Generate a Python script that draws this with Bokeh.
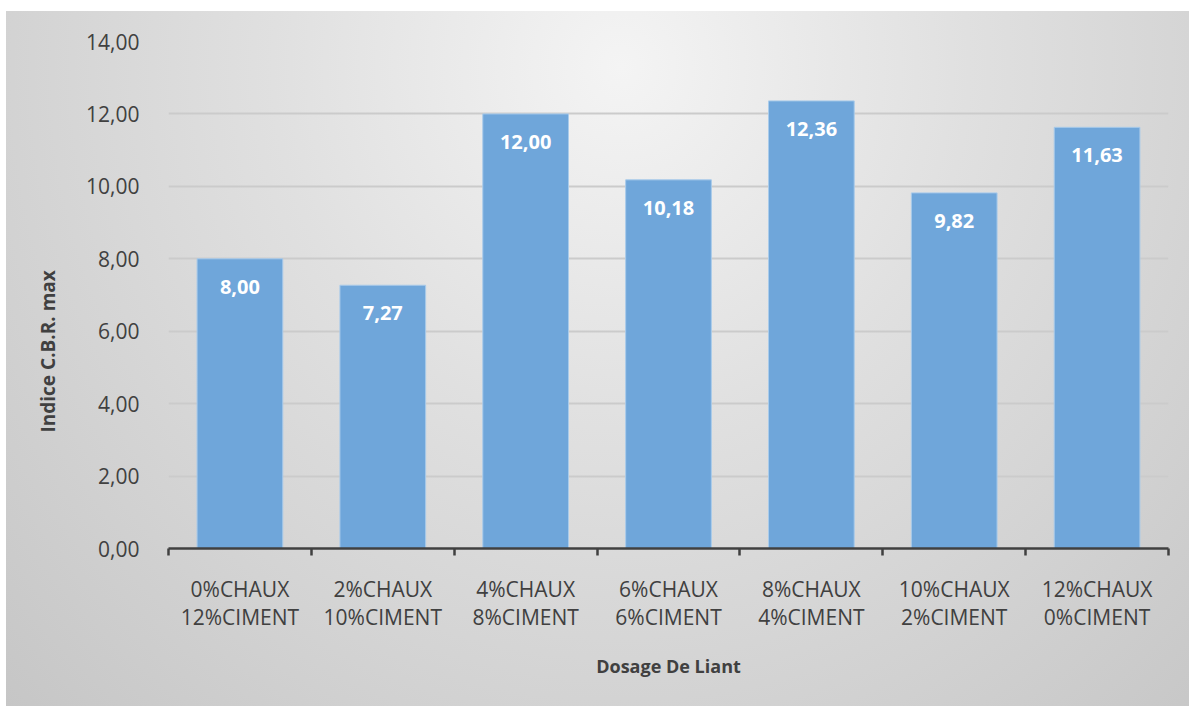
from bokeh.plotting import figure
from bokeh.models import FixedTicker, Title, ColumnDataSource, LabelSet
from bokeh.core.properties import value
from bokeh.embed import file_html
from bokeh.resources import INLINE

categories = ["0%CHAUX\n12%CIMENT", "2%CHAUX\n10%CIMENT", "4%CHAUX\n8%CIMENT",
              "6%CHAUX\n6%CIMENT", "8%CHAUX\n4%CIMENT", "10%CHAUX\n2%CIMENT",
              "12%CHAUX\n0%CIMENT"]
values = [8.00, 7.27, 12.00, 10.18, 12.36, 9.82, 11.63]
value_labels = ["8,00", "7,27", "12,00", "10,18", "12,36", "9,82", "11,63"]
y_ticks = [0, 2, 4, 6, 8, 10, 12, 14]
y_tick_labels = ["0,00", "2,00", "4,00", "6,00", "8,00", "10,00", "12,00", "14,00"]

FONT = "Open Sans"
TXT = "#404040"

xs = [i + 0.5 for i in range(len(categories))]
bounds = [float(i) for i in range(len(categories) + 1)]

src = ColumnDataSource(dict(x=xs, top=values, lab=value_labels))

p = figure(width=1189, height=706, x_range=(0, len(categories)), y_range=(0, 14),
           output_backend="svg", toolbar_location=None,
           min_border_left=168, min_border_right=21, min_border_top=41, min_border_bottom=158)

p.styles = {
    "background-color": "white",
    "background-image": "radial-gradient(ellipse farthest-corner at 52% 8%, #f4f4f4 0%, #e0e0e0 40%, #c6c6c6 100%)",
    "background-repeat": "no-repeat",
    "background-position": "6px 11px",
    "background-size": "1183px 695px",
}
p.background_fill_color = None
p.border_fill_color = None
p.outline_line_color = None

p.vbar(x="x", top="top", width=0.6, source=src, fill_color="#6fa6da",
       line_color="#a9cbea", line_width=1)

labels = LabelSet(x="x", y="top", text="lab", source=src, y_offset=-28,
                  text_align="center", text_baseline="middle", text_color="white",
                  text_font=value(FONT), text_font_style="bold", text_font_size="20px")
p.add_layout(labels)

# y axis
p.yaxis.ticker = FixedTicker(ticks=y_ticks)
p.yaxis.major_label_overrides = {t: l for t, l in zip(y_ticks, y_tick_labels)}
p.yaxis.axis_line_color = None
p.yaxis.major_tick_line_color = None
p.yaxis.minor_tick_line_color = None
p.yaxis.major_label_standoff = 23
p.yaxis.major_label_text_font = FONT
p.yaxis.major_label_text_font_size = "21px"
p.yaxis.major_label_text_color = TXT

# x axis
p.xaxis.ticker = FixedTicker(ticks=xs, minor_ticks=bounds)
p.xaxis.major_label_overrides = {x: c for x, c in zip(xs, categories)}
p.xaxis.major_tick_line_color = None
p.xaxis.minor_tick_out = 7
p.xaxis.minor_tick_in = 0
p.xaxis.minor_tick_line_color = TXT
p.xaxis.minor_tick_line_width = 2.5
p.xaxis.axis_line_color = TXT
p.xaxis.axis_line_width = 2.5
p.xaxis.major_label_standoff = 19
p.xaxis.major_label_text_font = FONT
p.xaxis.major_label_text_font_size = "21px"
p.xaxis.major_label_text_color = TXT
p.xaxis.major_label_text_line_height = 1.03
p.xaxis.axis_label = "Dosage De Liant"
p.xaxis.axis_label_text_font = FONT
p.xaxis.axis_label_text_font_style = "bold"
p.xaxis.axis_label_text_font_size = "18px"
p.xaxis.axis_label_text_color = TXT
p.xaxis.axis_label_standoff = 20

p.xgrid.visible = False
p.ygrid.grid_line_color = "#cbcbcb"
p.ygrid.grid_line_width = 2

ytitle = Title(text="Indice C.B.R. max", align="left", offset=116, standoff=45,
               text_font=FONT, text_font_style="bold", text_font_size="19px",
               text_color=TXT)
p.add_layout(ytitle, "left")

open("out.html", "w").write(file_html(p, INLINE))
